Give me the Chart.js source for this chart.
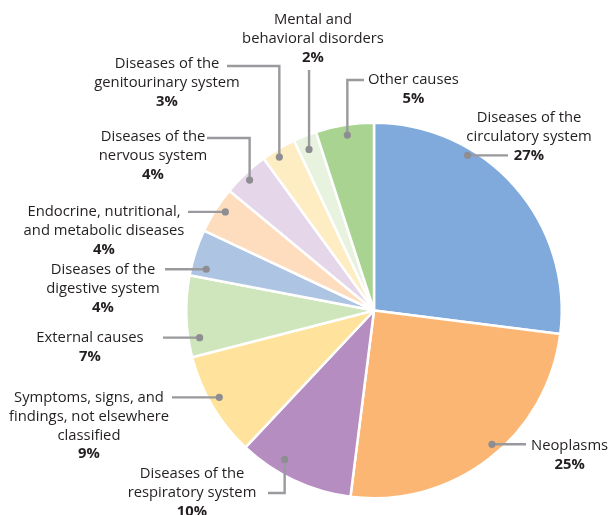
<!DOCTYPE html>
<html>
<head>
<meta charset="utf-8">
<script src="https://cdn.jsdelivr.net/npm/chart.js@4.4.1/dist/chart.umd.min.js"></script>
<style>
html,body{margin:0;padding:0;background:#fff;}
#wrap{position:relative;width:608px;height:515px;}
</style>
</head>
<body>
<div id="wrap"><canvas id="c" width="608" height="515"></canvas></div>
<script>
// ---- data ----
const categories = [
  "Diseases of the circulatory system",
  "Neoplasms",
  "Diseases of the respiratory system",
  "Symptoms, signs, and findings, not elsewhere classified",
  "External causes",
  "Diseases of the digestive system",
  "Endocrine, nutritional, and metabolic diseases",
  "Diseases of the nervous system",
  "Diseases of the genitourinary system",
  "Mental and behavioral disorders",
  "Other causes"
];
const shares = [27, 25, 10, 9, 7, 4, 4, 4, 3, 2, 5];
const labelLines = [
  ["Diseases of the", "circulatory system"],
  ["Neoplasms"],
  ["Diseases of the", "respiratory system"],
  ["Symptoms, signs, and", "findings, not elsewhere", "classified"],
  ["External causes"],
  ["Diseases of the", "digestive system"],
  ["Endocrine, nutritional,", "and metabolic diseases"],
  ["Diseases of the", "nervous system"],
  ["Diseases of the", "genitourinary system"],
  ["Mental and", "behavioral disorders"],
  ["Other causes"]
];
const colors = ["#80AADC","#FCB673","#B68DC1","#FFE29B","#CFE5BB","#ADC4E2","#FDDDBE","#E5D6EA","#FEECC3","#E8F3DF","#A9D390"];

// ---- label layout (styling) ----
const layout = [
  {frac:0.32, rf:0.965, type:'h',  tx:529, ty:118, ex:508},
  {frac:0.46, rf:0.95,  type:'h',  tx:567, ty:446, ex:526, leftAlign:531},
  {frac:0.66, rf:0.925, type:'vh', tx:192, ty:474, ey:493, ex:268},
  {frac:0.54, rf:0.945, type:'h',  tx:89,  ty:398, ex:172},
  {frac:0.22, rf:0.94,  type:'h',  tx:90,  ty:338, ex:163},
  {frac:0.21, rf:0.92,  type:'h',  tx:103, ty:270, ex:165},
  {frac:0.58, rf:0.95,  type:'h',  tx:104, ty:212, ex:188},
  {frac:0.47, rf:0.96,  type:'vh', tx:153, ty:137, ey:138, ex:207},
  {frac:0.40, rf:0.96,  type:'vh', tx:167, ty:64,  ey:66,  ex:227},
  {frac:0.45, rf:0.925, type:'v',  tx:313, ty:20,  ey:70},
  {frac:0.52, rf:0.945, type:'vh', tx:413, ty:80,  ey:80,  ex:364, leftAlign:368}
];

const FONT = '"Open Sans", "Noto Sans", sans-serif';
const FS = 14.8, LH = 18.7;

const labelPlugin = {
  id: 'leaderLabels',
  afterDatasetsDraw(chart) {
    const ctx = chart.ctx;
    const meta = chart.getDatasetMeta(0);
    ctx.save();
    meta.data.forEach((arc, i) => {
      const p = arc.getProps(['x','y','startAngle','endAngle','outerRadius'], true);
      const L = layout[i];
      const ang = p.startAngle + (p.endAngle - p.startAngle) * L.frac;
      const r = p.outerRadius * L.rf;
      const dx = p.x + Math.cos(ang) * r;
      const dy = p.y + Math.sin(ang) * r;
      ctx.strokeStyle = '#9A9A9E';
      ctx.lineWidth = 2.4;
      ctx.beginPath();
      ctx.moveTo(dx, dy);
      if (L.type === 'h') {
        ctx.lineTo(L.ex, dy);
      } else if (L.type === 'vh') {
        ctx.lineTo(dx, L.ey);
        ctx.lineTo(L.ex, L.ey);
      } else {
        ctx.lineTo(dx, L.ey);
      }
      ctx.stroke();
      ctx.fillStyle = '#8E8E92';
      ctx.beginPath();
      ctx.arc(dx, dy, 3.6, 0, Math.PI * 2);
      ctx.fill();
      const lines = labelLines[i];
      ctx.fillStyle = '#231F20';
      ctx.textBaseline = 'middle';
      ctx.font = FS + 'px ' + FONT;
      let cx = L.tx;
      ctx.textAlign = 'center';
      if (L.leftAlign !== undefined) {
        ctx.textAlign = 'left';
        ctx.fillText(lines[0], L.leftAlign, L.ty);
        cx = L.leftAlign + ctx.measureText(lines[0]).width / 2;
      } else {
        lines.forEach((t, k) => ctx.fillText(t, cx, L.ty + k * LH));
      }
      ctx.textAlign = 'center';
      ctx.font = 'bold ' + FS + 'px ' + FONT;
      ctx.fillText(shares[i] + '%', cx, L.ty + lines.length * LH);
    });
    ctx.restore();
  }
};

new Chart(document.getElementById('c'), {
  type: 'pie',
  data: {
    labels: categories,
    datasets: [{
      data: shares,
      backgroundColor: colors,
      borderColor: '#ffffff',
      borderWidth: 2.5
    }]
  },
  options: {
    responsive: false,
    animation: false,
    events: [],
    layout: { padding: { top: 121, bottom: 15, left: 185, right: 45 } },
    plugins: { legend: { display: false }, tooltip: { enabled: false } }
  },
  plugins: [labelPlugin]
});
</script>
</body>
</html>
